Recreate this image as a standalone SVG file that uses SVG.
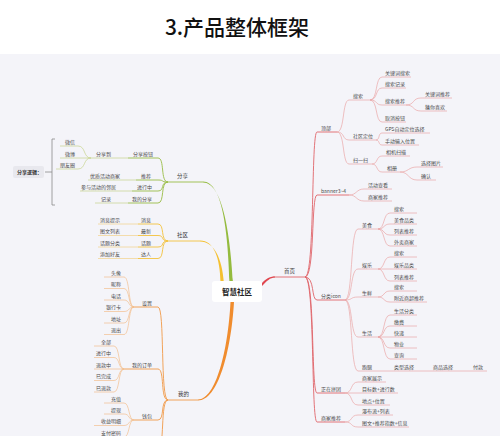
<svg xmlns="http://www.w3.org/2000/svg" width="500" height="436" viewBox="0 0 500 436">
<style>
.t{font-family:"Noto Sans CJK SC","Noto Sans",sans-serif;font-size:5px;fill:#4a4a4a}
.l1{font-size:5.5px;fill:#3a3a3a}
.e{text-anchor:end}
.R1{stroke:#e0646a;stroke-width:.9;fill:none}
.R2{stroke:#eaa0a0;stroke-width:.65;fill:none}
.G1{stroke:#98bc45;stroke-width:.9;fill:none}
.G2{stroke:#c3d184;stroke-width:.65;fill:none}
.Y1{stroke:#f3c23c;stroke-width:.9;fill:none}
.Y2{stroke:#f3cf80;stroke-width:.65;fill:none}
.O1{stroke:#f09a48;stroke-width:.9;fill:none}
.O2{stroke:#f2bb86;stroke-width:.65;fill:none}
</style>
<rect width="500" height="436" fill="#ffffff"/>
<rect y="54" width="500" height="382" fill="#f4f4f9"/>
<text x="237" y="35" text-anchor="middle" style="font-family:'Noto Sans CJK SC','Noto Sans',sans-serif;font-size:21px;font-weight:500;fill:#111">3.产品整体框架</text>

<g id="connectors">
  <!-- thick main branches -->
  <path d="M203,181.5 C222,181.5 228,230 229.5,282 L233,282 C230,230 222,182.5 203,182.5 Z" fill="#94bb3e"/>
  <path d="M200,240.5 C214,240.5 220,258 220.5,282 L223.8,282 C222,258 214,241.5 200,241.5 Z" fill="#f4c030"/>
  <path d="M198,399.5 C216,399.5 228,350 230.5,302 L234,302 C231,352 218,400.5 198,400.5 Z" fill="#f08c2e"/>
  <path d="M262,283 C266,279 269,276.5 275,276.5 L275,277.5 C270,277.5 267,281 262,286 Z" fill="#e0464f"/>
  <!-- 首页 -->
  <path class="R1" d="M305,277 C315,277 311,132 317,132 M305,277 C315,277 311,195 317,195 M305,277 C315,277 311,300 317,300 M305,277 C315,277 311,393 317,393 M305,277 C315,277 311,422 317,422"/>
  <path class="R2" d="M337,132 C345,132 342,100 349,100 M337,132 C345,132 342,140 349,140 M337,132 C345,132 342,164 349,164"/>
  <path class="R2" d="M370,100 C378,100 375,77 382,77 M370,100 C378,100 375,88 382,88 M370,100 C378,100 375,105 382,105 M370,100 C378,100 375,122 382,122"/>
  <path class="R2" d="M406,105 C415,105 412,98 421,98 M406,105 C415,105 412,111 421,111"/>
  <path class="R2" d="M376,140 C380,140 378,133 382,133 M376,140 C380,140 378,145 382,145"/>
  <path class="R2" d="M372,164 C378,164 376,156 382,156 M372,164 C378,164 376,172 382,172"/>
  <path class="R2" d="M400,172 C409,172 408,167 417,167 M400,172 C409,172 408,180 417,180"/>
  <path class="R2" d="M349,195 C357,195 356,189 364,189 M349,195 C357,195 356,201 364,201"/>
  <path class="R2" d="M345,300 C353,300 350,229 358,229 M345,300 C353,300 350,269 358,269 M345,300 C353,300 350,297 358,297 M345,300 C353,300 350,337 358,337 M345,300 C353,300 350,371 358,371"/>
  <path class="R2" d="M378,229 C385,229 383,213 390,213 M378,229 C385,229 383,224 390,224 M378,229 C385,229 383,235 390,235 M378,229 C385,229 383,246 390,246"/>
  <path class="R2" d="M378,269 C385,269 383,257 390,257 M378,269 H390 M378,269 C385,269 383,281 390,281"/>
  <path class="R2" d="M378,297 C385,297 383,291 390,291 M378,297 C385,297 383,302 390,302"/>
  <path class="R2" d="M378,337 C385,337 383,315 390,315 M378,337 C385,337 383,326 390,326 M378,337 H390 M378,337 C385,337 383,348 390,348 M378,337 C385,337 383,359 390,359"/>
  <path class="R2" d="M378,371 H390 M420,371 H429 M460,371 H469"/>
  <path class="R2" d="M345,393 C353,393 350,382 358,382 M345,393 H358 M345,393 C353,393 350,405 358,405"/>
  <path class="R2" d="M345,422 C353,422 350,415 358,415 M345,422 C353,422 350,427 358,427"/>
  <!-- 分享 -->
  <path class="G1" d="M168,182 C160,182 165,158 158,158 M168,182 C160,182 165,180 158,180 M168,182 C160,182 165,191 158,191 M168,182 C160,182 165,203 158,203"/>
  <path class="G2" d="M115,158 H128 M123,180 H136 M119,191 H132 M114,203 H128"/>
  <path class="G2" d="M91,158 C83,158 86,146 78,146 M91,158 H78 M91,158 C83,158 86,169 78,169"/>
  <!-- 社区 -->
  <path class="Y1" d="M168,241 C160,241 165,224 158,224 M168,241 C160,241 165,235.5 158,235.5 M168,241 C160,241 165,247 158,247 M168,241 C160,241 165,258.5 158,258.5"/>
  <path class="Y2" d="M124,224 H138 M124,235.5 H138 M124,247 H138 M124,258.5 H138"/>
  <!-- 我的 -->
  <path class="O1" d="M168,400 C160,400 165,307 158,307 M168,400 C160,400 165,369 158,369 M168,400 C160,400 165,420 158,420 M168,400 C160,400 165,450 158,450"/>
  <path class="O2" d="M134,307 C128,307 130,277 124,277 M134,307 C128,307 130,288.5 124,288.5 M134,307 C128,307 130,300 124,300 M134,307 C128,307 130,311.5 124,311.5 M134,307 C128,307 130,323 124,323 M134,307 C128,307 130,334.5 124,334.5"/>
  <path class="O2" d="M124,369 C118,369 120,346 114,346 M124,369 C118,369 120,357.5 114,357.5 M124,369 H114 M124,369 C118,369 120,380.5 114,380.5 M124,369 C118,369 120,392 114,392"/>
  <path class="O2" d="M134,420 C128,420 130,403 124,403 M134,420 C128,420 130,414 124,414 M134,420 C128,420 130,425.5 124,425.5 M134,420 C128,420 130,437 124,437"/>
</g>

<g id="center">
  <rect x="212" y="281" width="50" height="21" rx="3" fill="#ffffff"/>
  <text x="237" y="294.8" text-anchor="middle" style="font-family:'Noto Sans CJK SC','Noto Sans',sans-serif;font-size:7.5px;font-weight:bold;fill:#222">智慧社区</text>
</g>

<g id="share-logic">
  <rect x="13" y="166" width="31" height="12" rx="2" fill="#e8e8ee"/>
  <text class="t" x="17" y="174" style="font-weight:bold;fill:#333">分享逻辑：</text>
  <path d="M45,172 H52 M55,139 H52 V205 H55" stroke="#8a8a8a" stroke-width=".8" fill="none"/>
</g>

<!-- Right: 首页 -->
<g id="n-shouye"><text class="t l1" x="284" y="273">首页</text><path class="R1" d="M273,277H305"/></g>
<g id="n-dingbu"><text class="t" x="321" y="129.8">顶部</text><path class="R1" d="M317,132H337"/></g>
<g id="n-banner"><text class="t" x="321" y="192.8">banner3~4</text><path class="R1" d="M317,195H349"/></g>
<g id="n-fenlei"><text class="t" x="321" y="297.8">分类icon</text><path class="R1" d="M317,300H345"/></g>
<g id="n-pintuan"><text class="t" x="321" y="390.8">正在拼团</text><path class="R1" d="M317,393H345"/></g>
<g id="n-shangjia"><text class="t" x="321" y="419.8">商家推荐</text><path class="R1" d="M317,422H345"/></g>

<g id="n-sousuo"><text class="t" x="353" y="97.8">搜索</text><path class="R2" d="M349,100H370"/></g>
<g id="n-shequdingwei"><text class="t" x="353" y="137.8">社区定位</text><path class="R2" d="M349,140H376"/></g>
<g id="n-saoyisao"><text class="t" x="353" y="161.8">扫一扫</text><path class="R2" d="M349,164H372"/></g>
<g id="n-gjcss"><text class="t" x="385" y="74.8">关键词搜索</text><path class="R2" d="M382,77H411"/></g>
<g id="n-ssjl"><text class="t" x="385" y="85.8">搜索记录</text><path class="R2" d="M382,88H406"/></g>
<g id="n-sstj"><text class="t" x="385" y="102.8">搜索推荐</text><path class="R2" d="M382,105H406"/></g>
<g id="n-qxan"><text class="t" x="385" y="119.8">取消按钮</text><path class="R2" d="M382,122H406"/></g>
<g id="n-gjctj"><text class="t" x="425" y="95.8">关键词推荐</text><path class="R2" d="M421,98H452"/></g>
<g id="n-cnxh"><text class="t" x="425" y="108.8">猜你喜欢</text><path class="R2" d="M421,111H447"/></g>
<g id="n-gps"><text class="t" x="385" y="130.8">GPS自动定位选择</text><path class="R2" d="M382,133H430"/></g>
<g id="n-sdsr"><text class="t" x="385" y="142.8">手动输入位置</text><path class="R2" d="M382,145H419"/></g>
<g id="n-xjsm"><text class="t" x="386" y="153.8">相机扫描</text><path class="R2" d="M382,156H410"/></g>
<g id="n-xiangce"><text class="t" x="387" y="169.8">相册</text><path class="R2" d="M382,172H400"/></g>
<g id="n-xztp"><text class="t" x="421" y="164.8">选择图片</text><path class="R2" d="M417,167H443"/></g>
<g id="n-queren"><text class="t" x="421" y="177.8">确认</text><path class="R2" d="M417,180H436"/></g>
<g id="n-hdck"><text class="t" x="368" y="186.8">活动查看</text><path class="R2" d="M364,189H392"/></g>
<g id="n-sjtj2"><text class="t" x="368" y="198.8">商家推荐</text><path class="R2" d="M364,201H392"/></g>

<g id="n-meishi"><text class="t" x="362" y="226.8">美食</text><path class="R2" d="M358,229H378"/></g>
<g id="n-yule"><text class="t" x="362" y="266.8">娱乐</text><path class="R2" d="M358,269H378"/></g>
<g id="n-shengxian"><text class="t" x="362" y="294.8">生鲜</text><path class="R2" d="M358,297H378"/></g>
<g id="n-shenghuo"><text class="t" x="362" y="334.8">生活</text><path class="R2" d="M358,337H378"/></g>
<g id="n-paotui"><text class="t" x="362" y="368.8">跑腿</text><path class="R2" d="M358,371H378"/></g>

<g id="n-ms-ss"><text class="t" x="394" y="210.8">搜索</text><path class="R2" d="M390,213H417"/></g>
<g id="n-ms-pl"><text class="t" x="394" y="221.8">美食品类</text><path class="R2" d="M390,224H417"/></g>
<g id="n-ms-lb"><text class="t" x="394" y="232.8">列表推荐</text><path class="R2" d="M390,235H417"/></g>
<g id="n-ms-wm"><text class="t" x="394" y="243.8">外卖商家</text><path class="R2" d="M390,246H417"/></g>
<g id="n-yl-ss"><text class="t" x="394" y="254.8">搜索</text><path class="R2" d="M390,257H417"/></g>
<g id="n-yl-pl"><text class="t" x="394" y="266.8">娱乐品类</text><path class="R2" d="M390,269H417"/></g>
<g id="n-yl-lb"><text class="t" x="394" y="278.8">列表推荐</text><path class="R2" d="M390,281H417"/></g>
<g id="n-sx-ss"><text class="t" x="394" y="288.8">搜索</text><path class="R2" d="M390,291H417"/></g>
<g id="n-sx-fj"><text class="t" x="394" y="299.8">附近商超推荐</text><path class="R2" d="M390,302H427"/></g>
<g id="n-sh-fl"><text class="t" x="394" y="312.8">生活分类</text><path class="R2" d="M390,315H417"/></g>
<g id="n-sh-jf"><text class="t" x="394" y="323.8">缴费</text><path class="R2" d="M390,326H417"/></g>
<g id="n-sh-kd"><text class="t" x="394" y="334.8">快递</text><path class="R2" d="M390,337H417"/></g>
<g id="n-sh-wy"><text class="t" x="394" y="345.8">物业</text><path class="R2" d="M390,348H417"/></g>
<g id="n-sh-cx"><text class="t" x="394" y="356.8">查询</text><path class="R2" d="M390,359H417"/></g>
<g id="n-pt-lx"><text class="t" x="394" y="368.8">类型选择</text><path class="R2" d="M390,371H420"/></g>
<g id="n-pt-sp"><text class="t" x="433" y="368.8">商品选择</text><path class="R2" d="M429,371H460"/></g>
<g id="n-pt-fk"><text class="t" x="473" y="368.8">付款</text><path class="R2" d="M469,371H487"/></g>

<g id="n-pt-zs"><text class="t" x="362" y="379.8">商家展示</text><path class="R2" d="M358,382H386"/></g>
<g id="n-pt-mb"><text class="t" x="362" y="390.8">目标数+进行数</text><path class="R2" d="M358,393H398"/></g>
<g id="n-pt-dd"><text class="t" x="362" y="402.8">地点+位置</text><path class="R2" d="M358,405H390"/></g>
<g id="n-sj-pb"><text class="t" x="362" y="412.8">瀑布流+列表</text><path class="R2" d="M358,415H393"/></g>
<g id="n-sj-tw"><text class="t" x="362" y="424.8">图文+推荐指数+信息</text><path class="R2" d="M358,427H409"/></g>

<!-- Left: 分享 -->
<g id="n-fenxiang"><text class="t l1" x="177" y="178">分享</text><path class="G1" d="M168,182H203"/></g>
<g id="n-fxan"><text class="t e" x="153" y="155.8">分享按钮</text><path class="G1" d="M128,158H158"/></g>
<g id="n-tuijian"><text class="t e" x="151" y="177.8">推荐</text><path class="G1" d="M136,180H158"/></g>
<g id="n-jxz"><text class="t e" x="152" y="188.8">进行中</text><path class="G1" d="M132,191H158"/></g>
<g id="n-wdfx"><text class="t e" x="152" y="200.8">我的分享</text><path class="G1" d="M128,203H158"/></g>
<g id="n-fxd"><text class="t e" x="111" y="155.8">分享到</text><path class="G2" d="M91,158H115"/></g>
<g id="n-weixin"><text class="t e" x="75" y="143.8">微信</text><path class="G2" d="M60,146H78"/></g>
<g id="n-weibo"><text class="t e" x="75" y="155.8">微博</text><path class="G2" d="M60,158H78"/></g>
<g id="n-pyq"><text class="t e" x="75" y="166.8">朋友圈</text><path class="G2" d="M56,169H78"/></g>
<g id="n-yzhd"><text class="t e" x="120" y="177.8">优质活动商家</text><path class="G2" d="M88,180H123"/></g>
<g id="n-cyhd"><text class="t e" x="116" y="188.8">参与活动的邻居</text><path class="G2" d="M80,191H119"/></g>
<g id="n-jilu"><text class="t e" x="111" y="200.8">记录</text><path class="G2" d="M95,203H114"/></g>

<!-- Left: 社区 -->
<g id="n-shequ"><text class="t l1" x="177" y="237">社区</text><path class="Y1" d="M168,241H200"/></g>
<g id="n-xiaoxi"><text class="t e" x="151" y="221.8">消息</text><path class="Y1" d="M138,224H158"/></g>
<g id="n-zuixin"><text class="t e" x="151" y="233.3">最新</text><path class="Y1" d="M138,235.5H158"/></g>
<g id="n-huati"><text class="t e" x="151" y="244.8">话题</text><path class="Y1" d="M138,247H158"/></g>
<g id="n-daren"><text class="t e" x="151" y="256.3">达人</text><path class="Y1" d="M138,258.5H158"/></g>
<g id="n-xxts"><text class="t e" x="120" y="221.8">消息提示</text><path class="Y2" d="M98,224H124"/></g>
<g id="n-twlb"><text class="t e" x="120" y="233.3">图文列表</text><path class="Y2" d="M98,235.5H124"/></g>
<g id="n-htfl"><text class="t e" x="120" y="244.8">话题分类</text><path class="Y2" d="M98,247H124"/></g>
<g id="n-tjhy"><text class="t e" x="120" y="256.3">添加好友</text><path class="Y2" d="M98,258.5H124"/></g>

<!-- Left: 我的 -->
<g id="n-wode"><text class="t l1" x="178" y="396">我的</text><path class="O1" d="M168,400H198"/></g>
<g id="n-shezhi"><text class="t e" x="152" y="304.8">设置</text><path class="O1" d="M134,307H158"/></g>
<g id="n-wddd"><text class="t e" x="152" y="366.8">我的订单</text><path class="O1" d="M124,369H158"/></g>
<g id="n-qianbao"><text class="t e" x="152" y="417.8">钱包</text><path class="O1" d="M134,420H158"/></g>
<g id="n-touxiang"><text class="t e" x="121" y="274.8">头像</text><path class="O2" d="M104,277H124"/></g>
<g id="n-nicheng"><text class="t e" x="121" y="286.3">昵称</text><path class="O2" d="M104,288.5H124"/></g>
<g id="n-dianhua"><text class="t e" x="121" y="297.8">电话</text><path class="O2" d="M104,300H124"/></g>
<g id="n-yhk"><text class="t e" x="121" y="309.3">银行卡</text><path class="O2" d="M104,311.5H124"/></g>
<g id="n-dizhi"><text class="t e" x="121" y="320.8">地址</text><path class="O2" d="M104,323H124"/></g>
<g id="n-tuichu"><text class="t e" x="121" y="332.3">退出</text><path class="O2" d="M104,334.5H124"/></g>
<g id="n-quanbu"><text class="t e" x="111" y="343.8">全部</text><path class="O2" d="M94,346H114"/></g>
<g id="n-jxz2"><text class="t e" x="111" y="355.3">进行中</text><path class="O2" d="M94,357.5H114"/></g>
<g id="n-tkz"><text class="t e" x="111" y="366.8">退款中</text><path class="O2" d="M94,369H114"/></g>
<g id="n-ywc"><text class="t e" x="111" y="378.3">已完成</text><path class="O2" d="M94,380.5H114"/></g>
<g id="n-ytk"><text class="t e" x="111" y="389.8">已退款</text><path class="O2" d="M94,392H114"/></g>
<g id="n-chongzhi"><text class="t e" x="121" y="400.8">充值</text><path class="O2" d="M104,403H124"/></g>
<g id="n-tixian"><text class="t e" x="121" y="411.8">提现</text><path class="O2" d="M104,414H124"/></g>
<g id="n-symx"><text class="t e" x="121" y="423.3">收益明细</text><path class="O2" d="M94,425.5H124"/></g>
<g id="n-zfmm"><text class="t e" x="121" y="434.8">支付密码</text><path class="O2" d="M94,437H124"/></g>
</svg>
